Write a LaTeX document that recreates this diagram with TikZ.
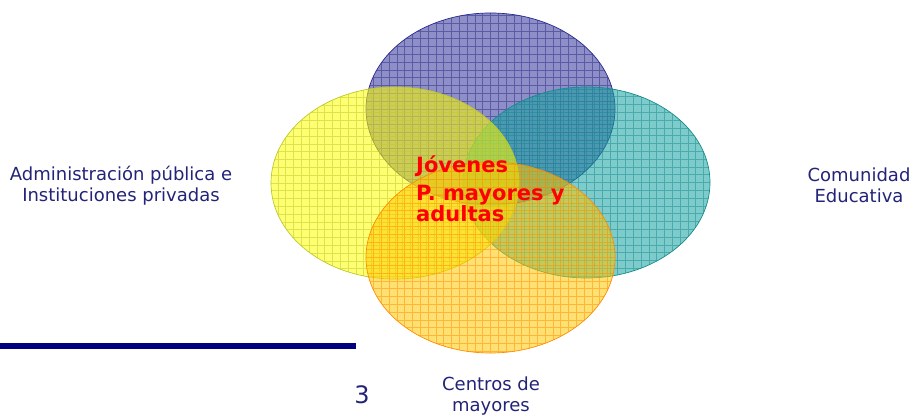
\documentclass[tikz,border=0pt]{standalone}
\usepackage{fontspec}
\setmainfont{DejaVu Sans}
\usetikzlibrary{shapes.geometric}
\definecolor{navytext}{RGB}{35,35,120}
\definecolor{bluefill}{RGB}{51,51,153}
\definecolor{blueline}{RGB}{40,40,140}
\definecolor{tealfill}{RGB}{20,160,160}
\definecolor{tealline}{RGB}{20,140,140}
\definecolor{yelfill}{RGB}{255,255,0}
\definecolor{yelline}{RGB}{190,200,40}
\definecolor{orfill}{RGB}{255,200,0}
\definecolor{orline}{RGB}{255,140,0}
\definecolor{barblue}{RGB}{0,0,128}
\tikzset{
  gridded/.style 2 args={fill=#1, fill opacity=0.55, draw=#2, draw opacity=1, line width=0.7pt,
    path picture={\draw[#2, opacity=0.5, line width=0.65pt, step=7.8pt]
      (path picture bounding box.south west) grid (path picture bounding box.north east);}},
  sidelabel/.style={font=\fontsize{18}{21}\selectfont, text=navytext, align=center, inner sep=0pt},
  centerlabel/.style={font=\fontsize{21}{24}\selectfont\bfseries, text=red, anchor=base west, inner sep=0pt}
}
\begin{document}
\begin{tikzpicture}[x=1pt,y=1pt]
\useasboundingbox (0,0) rectangle (913,417);
\node[ellipse, inner sep=0pt, minimum width=249pt, minimum height=192pt, gridded={bluefill}{blueline}] (blue) at (490.5,308) {};
\node[ellipse, inner sep=0pt, minimum width=247pt, minimum height=191pt, gridded={tealfill}{tealline}] (teal) at (586.5,234.5) {};
\node[ellipse, inner sep=0pt, minimum width=248pt, minimum height=192pt, gridded={yelfill}{yelline}] (yellow) at (395,234) {};
\node[ellipse, inner sep=0pt, minimum width=249pt, minimum height=191pt, gridded={orfill}{orline}] (orange) at (490.5,159.5) {};
\node[centerlabel] (j1) at (416,244) {Jóvenes};
\node[centerlabel] (j2) at (416,216) {P. mayores y};
\node[centerlabel] (j3) at (416,195) {adultas};
\node[sidelabel] (adm) at (121,231.5) {Administración pública e\\Instituciones privadas};
\node[sidelabel] (com) at (859,231.5) {Comunidad\\Educativa};
\node[sidelabel] (cen) at (491,20.5) {Centros de\\mayores};
\node[font=\fontsize{24}{28}\selectfont, text=navytext, inner sep=0pt] (num) at (362,22) {3};
\coordinate (barL) at (0,70.5);
\coordinate (barR) at (356,70.5);
\draw[barblue, line width=6pt] (barL) -- (barR);
\end{tikzpicture}
\end{document}
